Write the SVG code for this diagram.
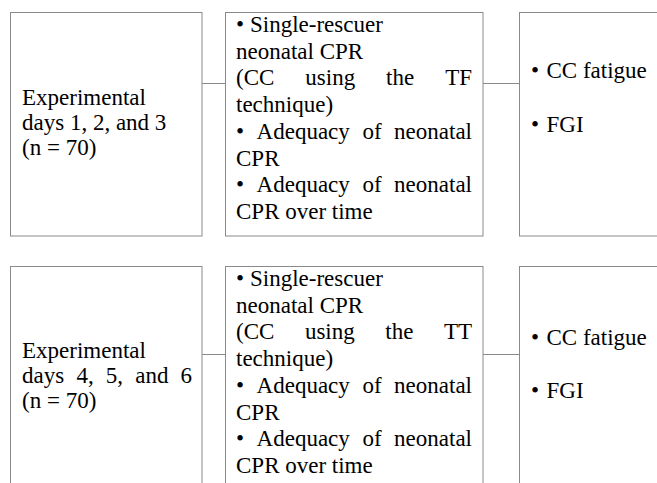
<svg xmlns="http://www.w3.org/2000/svg" width="657" height="483" viewBox="0 0 657 483">
<style>
.box{fill:#ffffff;stroke:#8a8a8a;stroke-width:1}
.con{stroke:#8a8a8a;stroke-width:1;fill:none}
text{font-family:'Liberation Serif','Times New Roman',Times,serif;font-size:23px;fill:#000000}
.e{text-anchor:end}
</style>
<rect width="657" height="483" fill="#ffffff"/>
<g id="connectors">
<line class="con" x1="202" y1="83.5" x2="225" y2="83.5"/>
<line class="con" x1="483" y1="83.5" x2="519" y2="83.5"/>
<line class="con" x1="202" y1="354.5" x2="225" y2="354.5"/>
<line class="con" x1="483" y1="354.5" x2="519" y2="354.5"/>
</g>
<g id="group1">
<rect class="box" x="10.5" y="12.5" width="191.5" height="223.5"/>
<text x="22" y="105">Experimental</text>
<text x="22" y="130">days 1, 2, and 3</text>
<text x="22" y="155">(n = 70)</text>
</g>
<g id="outcomes1">
<rect class="box" x="225.5" y="12.5" width="257.5" height="223.5"/>
<text x="236" y="32">•</text><text x="250" y="32">Single-rescuer</text>
<text x="236" y="58.7">neonatal CPR</text>
<text x="236" y="85.4">(CC</text><text x="305.3" y="85.4">using</text><text x="386.1" y="85.4">the</text><text class="e" x="472" y="85.4">TF</text>
<text x="236" y="112.1">technique)</text>
<text x="236" y="138.8">•</text><text x="256.6" y="138.8">Adequacy</text><text x="362.4" y="138.8">of</text><text class="e" x="472" y="138.8">neonatal</text>
<text x="236" y="165.5">CPR</text>
<text x="236" y="192.2">•</text><text x="256.6" y="192.2">Adequacy</text><text x="362.4" y="192.2">of</text><text class="e" x="472" y="192.2">neonatal</text>
<text x="236" y="218.9">CPR over time</text>
</g>
<g id="measures1">
<rect class="box" x="519.5" y="12.5" width="160" height="223.5"/>
<text x="531" y="78">•</text><text x="546.5" y="78">CC fatigue</text>
<text x="531" y="132">•</text><text x="546.5" y="132">FGI</text>
</g>
<g id="group2">
<rect class="box" x="10.5" y="266.5" width="191.5" height="260"/>
<text x="22" y="358">Experimental</text>
<text x="22" y="383">days</text><text x="76.4" y="383">4,</text><text x="105.8" y="383">5,</text><text x="135.2" y="383">and</text><text class="e" x="192" y="383">6</text>
<text x="22" y="408">(n = 70)</text>
</g>
<g id="outcomes2">
<rect class="box" x="225.5" y="266.5" width="257.5" height="260"/>
<text x="236" y="286">•</text><text x="250" y="286">Single-rescuer</text>
<text x="236" y="312.7">neonatal CPR</text>
<text x="236" y="339.4">(CC</text><text x="304.9" y="339.4">using</text><text x="385.3" y="339.4">the</text><text class="e" x="472" y="339.4">TT</text>
<text x="236" y="366.1">technique)</text>
<text x="236" y="392.8">•</text><text x="256.6" y="392.8">Adequacy</text><text x="362.4" y="392.8">of</text><text class="e" x="472" y="392.8">neonatal</text>
<text x="236" y="419.5">CPR</text>
<text x="236" y="446.2">•</text><text x="256.6" y="446.2">Adequacy</text><text x="362.4" y="446.2">of</text><text class="e" x="472" y="446.2">neonatal</text>
<text x="236" y="472.9">CPR over time</text>
</g>
<g id="measures2">
<rect class="box" x="519.5" y="266.5" width="160" height="260"/>
<text x="531" y="345">•</text><text x="546.5" y="345">CC fatigue</text>
<text x="531" y="398">•</text><text x="546.5" y="398">FGI</text>
</g>
</svg>
